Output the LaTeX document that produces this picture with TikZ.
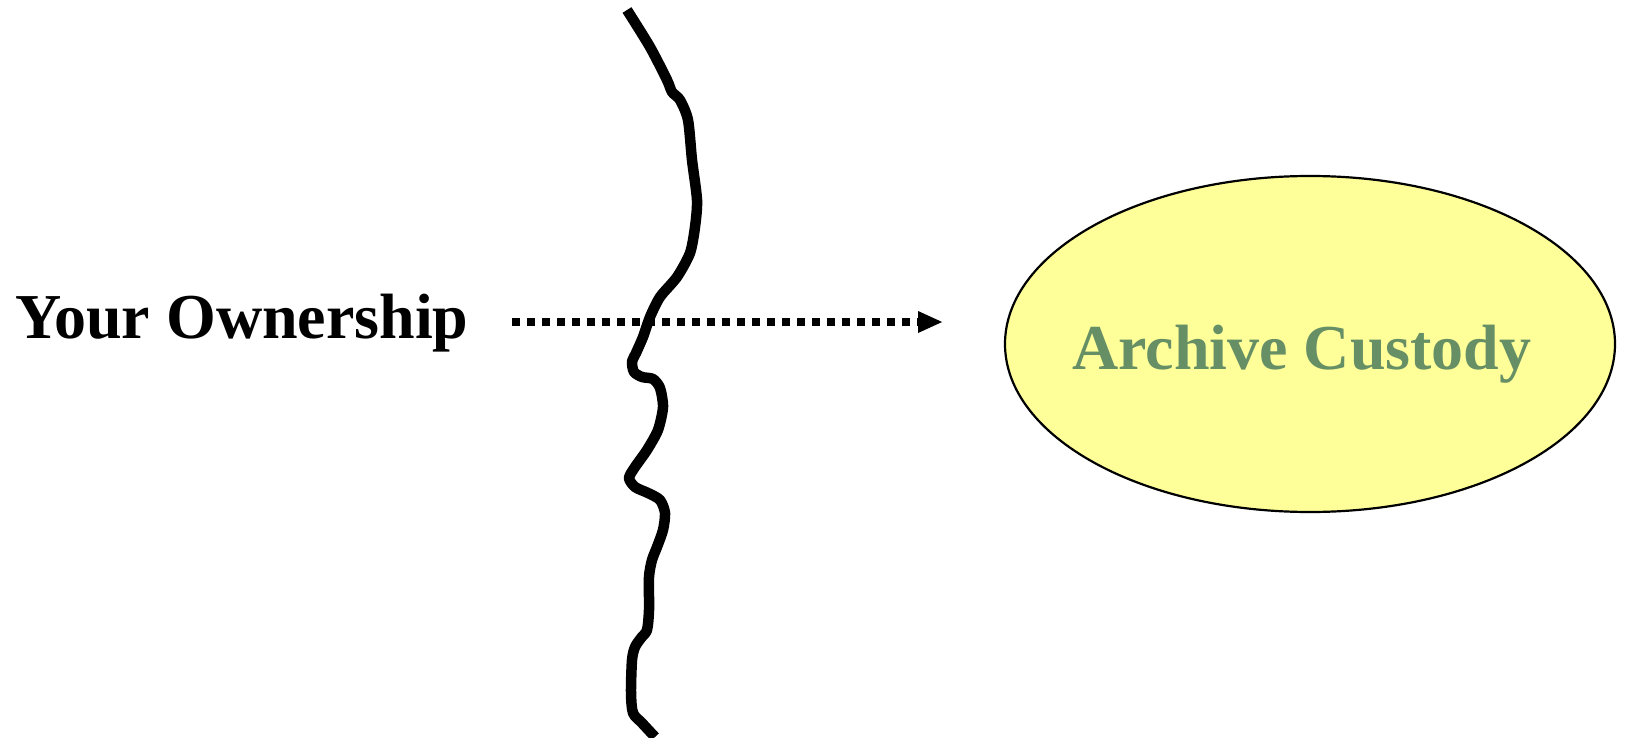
\documentclass[tikz,border=0pt]{standalone}
\usepackage{fontspec}
\setmainfont{Liberation Serif}
\usetikzlibrary{arrows.meta,shapes.geometric}
\definecolor{archfill}{HTML}{FFFF99}
\definecolor{archtext}{RGB}{102,143,102}
\tikzset{
  bigtext/.style={font=\fontsize{64}{72}\selectfont\bfseries, inner sep=0pt},
  archshape/.style={ellipse, draw=black, line width=2.2pt, fill=archfill, minimum width=610pt, minimum height=336pt, inner sep=0pt},
  flowarrow/.style={line width=7.5pt, dash pattern=on 7.5pt off 7.5pt, -{Triangle[length=25pt,width=20pt]}},
  boundary/.style={line width=10.5pt, line join=round}
}
\begin{document}
\begin{tikzpicture}[x=1pt,y=-1pt]
\useasboundingbox (0,0) rectangle (1625,738);
\node[archshape] (arch) at (1310,344) {};
\node[bigtext, text=archtext, anchor=base] (archlbl) at (1302,369) {Archive Custody};
\node[bigtext, anchor=base west] (own) at (15,338) {Your Ownership};
\draw[boundary] plot[smooth, tension=0.45] coordinates {
 (627,10) (650,47) (667,80) (672,92) (680,100) (688,120) (692,160) (697,200) (695,227) (690,253)
 (677,277) (660,297) (650,317) (643,337) (636,353) (632,362) (634,372) (642,377) (653,379) (660,388)
 (663,407) (658,430) (647,450) (635,467) (629,478) (635,487) (648,493) (660,500) (665,513) (663,530)
 (657,547) (652,560) (649,577) (649,610) (647,630) (641,638) (635,647) (632,660) (631,693) (633,713)
 (642,723) (655,737)};
\coordinate (as) at (512,322);
\coordinate (ae) at (943,322);
\draw[flowarrow] (as) -- (ae);
\end{tikzpicture}
\end{document}
